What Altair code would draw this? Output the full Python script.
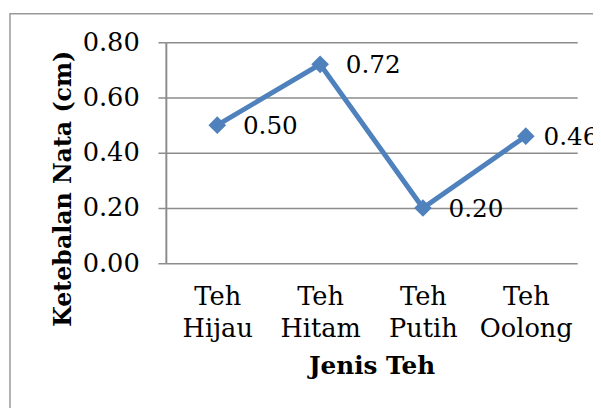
import altair as alt
import pandas as pd

categories = ["Teh Hijau", "Teh Hitam", "Teh Putih", "Teh Oolong"]
values = [0.50, 0.72, 0.20, 0.46]
y_ticks = [0.0, 0.2, 0.4, 0.6, 0.8]

df = pd.DataFrame({"jenis": categories, "tebal": values})

FONT = "DejaVu Serif"
BLUE = "#4F81BD"
GRAY = "#8c8c8c"

x_enc = alt.X(
    "jenis:N",
    sort=categories,
    scale=alt.Scale(type="point", padding=0.5),
    axis=alt.Axis(
        title="Jenis Teh",
        labelExpr="split(datum.label, ' ')",
        labelAngle=0,
        labelLineHeight=32,
        labelBaseline="alphabetic",
        labelPadding=42,
        ticks=False,
        domain=False,
        grid=False,
        titleY=112,
        titleFontSize=25,
        titleBaseline="alphabetic",
    ),
)
y_enc = alt.Y(
    "tebal:Q",
    scale=alt.Scale(domain=[0, 0.8]),
    axis=alt.Axis(
        title="Ketebalan Nata (cm)",
        values=y_ticks,
        format=".2f",
        tickSize=8,
        labelPadding=19,
        domainColor=GRAY,
        domainWidth=2,
        tickColor=GRAY,
        tickWidth=1.5,
        gridColor=GRAY,
        gridWidth=1.5,
        titleX=-104,
        titleY=148,
        titleAngle=270,
        titleFontSize=24,
        titleAlign="center",
        titleBaseline="middle",
    ),
)

base = alt.Chart(df)

line = base.mark_line(color=BLUE, strokeWidth=5).encode(x=x_enc, y=y_enc)
pts = base.mark_point(shape="diamond", filled=True, size=320, color=BLUE, opacity=1).encode(
    x=x_enc, y=y_enc
)
labels = base.mark_text(
    align="left", baseline="middle", dy=1, fontSize=25, font=FONT, color="black",
    dx=alt.expr("datum.jenis == 'Teh Oolong' ? 18 : 26"),
).encode(x=x_enc, y=y_enc, text=alt.Text("tebal:Q", format=".2f"))

border = alt.Chart(alt.Data(values=[{"a": 1}])).mark_rect(
    fill="transparent", stroke="#999999", strokeWidth=1.5
).encode(
    x=alt.value(-158), x2=alt.value(700), y=alt.value(-29), y2=alt.value(600)
)

chart = (
    alt.layer(border, line, pts, labels)
    .properties(
        width=417,
        height=224,
        padding={"left": 160, "top": 32, "right": 16, "bottom": 144},
        autosize=alt.AutoSizeParams(type="none"),
    )
    .configure_view(stroke=None)
    .configure_axis(
        labelFont=FONT,
        labelFontSize=26,
        labelColor="black",
        titleFont=FONT,
        titleFontWeight="bold",
        titleColor="black",
    )
)

chart.save("out.html", embed_options={"renderer": "svg", "actions": False})
